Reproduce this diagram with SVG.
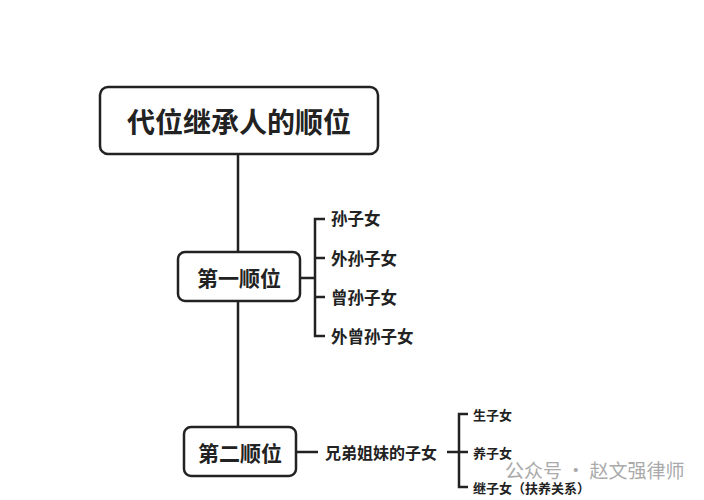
<svg xmlns="http://www.w3.org/2000/svg" width="704" height="500" viewBox="0 0 704 500">
<style>
.box{fill:#fff;stroke:#222;stroke-width:2.5}
.ln{stroke:#222;stroke-width:2.5;fill:none}
text{font-family:"Noto Sans CJK SC",sans-serif;font-weight:bold;fill:#222;dominant-baseline:central}
.t1{font-size:28px;text-anchor:middle}
.t2{font-size:21px;text-anchor:middle}
.t3{font-size:16.5px}
.t5{font-size:16px}
.t4{font-size:13px}
.wm{font-size:19px;font-weight:normal;fill:#aaa}
</style>
<rect width="704" height="500" fill="#fff"/>
<g id="connectors">
<path class="ln" d="M238 154V252M238 301V427"/>
<path class="ln" d="M300 278H315M325 219H315V336H325M315 258H325M315 297H325"/>
<path class="ln" d="M296 452H318M447 452H468M468 414H459V487H468"/>
</g>
<g id="root"><rect class="box" x="100" y="87" width="278" height="67" rx="8"/><text class="t1" x="239" y="121">代位继承人的顺位</text></g>
<g id="first"><rect class="box" x="178" y="252" width="122" height="49" rx="7"/><text class="t2" x="239" y="277">第一顺位</text></g>
<g id="second"><rect class="box" x="184" y="427" width="112" height="49" rx="7"/><text class="t2" x="240" y="452">第二顺位</text></g>
<g id="f1"><text class="t3" x="331" y="218">孙子女</text></g>
<g id="f2"><text class="t3" x="331" y="258">外孙子女</text></g>
<g id="f3"><text class="t3" x="331" y="297">曾孙子女</text></g>
<g id="f4"><text class="t3" x="331" y="336">外曾孙子女</text></g>
<g id="sib"><text class="t5" x="325" y="452">兄弟姐妹的子女</text></g>
<g id="s1"><text class="t4" x="473" y="414">生子女</text></g>
<g id="s2"><text class="t4" x="473" y="452">养子女</text></g>
<g id="s3"><text class="t4" x="473" y="487">继子女（扶养关系）</text></g>
<text class="wm" x="505" y="469">公众号 · 赵文强律师</text>
</svg>
